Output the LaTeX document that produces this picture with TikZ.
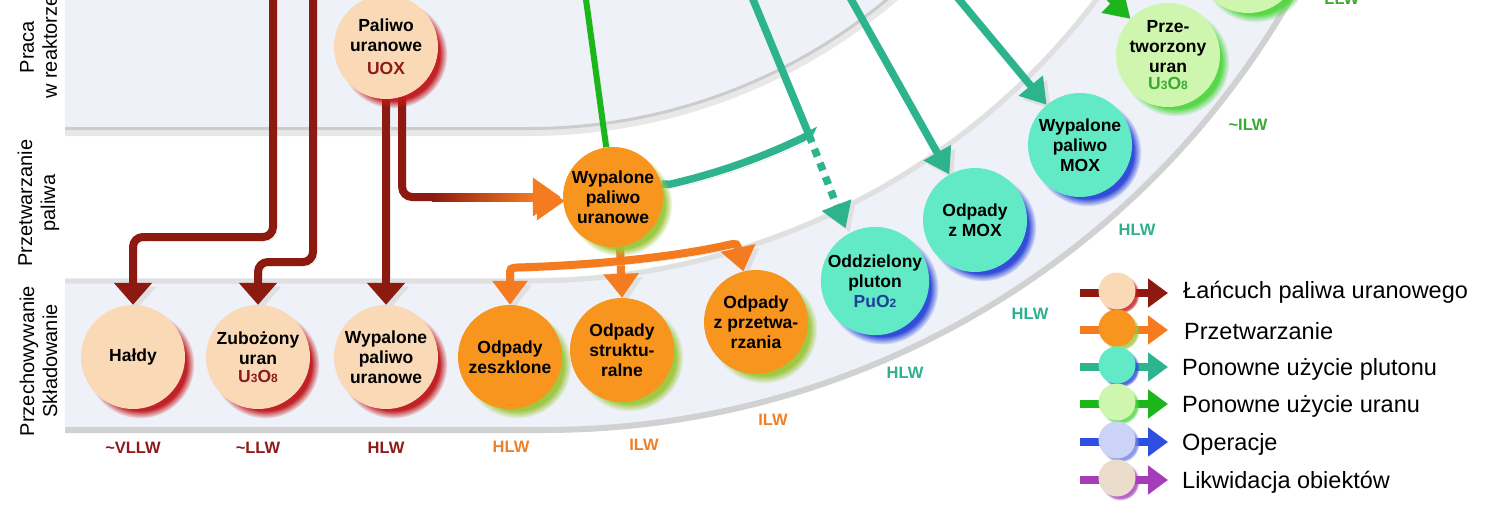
\documentclass[tikz,border=0pt]{standalone}
\usepackage{fontspec}
\setmainfont{Liberation Sans}
\usetikzlibrary{arrows.meta,shadows,fadings,calc}
\pgfdeclarelayer{bands}
\pgfdeclarelayer{arrows}
\pgfsetlayers{bands,arrows,main}

\definecolor{cRed}{HTML}{8C1A10}
\definecolor{cRedTxt}{HTML}{8E1B1B}
\definecolor{cRedGlow}{HTML}{C0171C}
\definecolor{cPeach}{HTML}{FAD9B7}
\definecolor{cOrange}{HTML}{F47B20}
\definecolor{cOrangeNode}{HTML}{F7951E}
\definecolor{cOrangeGlow}{HTML}{9CC63A}
\definecolor{cOrangeTxt}{HTML}{F08028}
\definecolor{cTeal}{HTML}{2DB48F}
\definecolor{cTealNode}{HTML}{62EAC6}
\definecolor{cTealGlow}{HTML}{2A45D8}
\definecolor{cTealTxt}{HTML}{2FB08E}
\definecolor{cGreen}{HTML}{1CB61C}
\definecolor{cGreenNode}{HTML}{CFF6AE}
\definecolor{cGreenGlow}{HTML}{4FD640}
\definecolor{cGreenTxt}{HTML}{3BAA32}
\definecolor{cBlue}{HTML}{2F4FE3}
\definecolor{cLav}{HTML}{CBD4F6}
\definecolor{cLavGlow}{HTML}{6F7FE8}
\definecolor{cPurple}{HTML}{A53DBA}
\definecolor{cBeige}{HTML}{EBDCCB}
\definecolor{cBand}{HTML}{EEF1F8}
\definecolor{cPuTxt}{HTML}{1E3F99}

\newcommand\nodefont{\fontsize{17.5}{20}\selectfont\bfseries}
\newcommand\sidefont{\fontsize{20}{23}\selectfont}
\newcommand\legfont{\fontsize{23.5}{26}\selectfont}
\newcommand\wastefont{\fontsize{16.5}{18}\selectfont\bfseries}
\newcommand\myChemSub[1]{\raisebox{-0.5pt}{\fontsize{12}{12}\selectfont #1}}

\tikzset{
  ball/.style n args={3}{circle, minimum size=#3, inner sep=0pt, align=center,
    font=\nodefont, text=black, fill=#1,
    circular drop shadow={fill=#2, shadow xshift=7pt, shadow yshift=-7pt,
      shadow scale=1.04, opacity=0.95}},
  peachball/.style={ball={cPeach}{cRedGlow}{104pt}},
  orangeball/.style={ball={cOrangeNode}{cOrangeGlow}{104pt}},
  tealball/.style={ball={cTealNode}{cTealGlow}{104pt}},
  greenball/.style={ball={cGreenNode}{cGreenGlow}{104pt}},
  legball/.style n args={2}{circle, minimum size=37pt, inner sep=0pt, fill=#1,
    circular drop shadow={fill=#2, shadow xshift=3pt, shadow yshift=-3pt,
      shadow scale=1.05, opacity=0.8}},
  arrshadow/.style={preaction={draw=black!12, transform canvas={shift={(4pt,-4pt)}}}},
  redline/.style={draw=cRed, line width=8pt, rounded corners=10pt, arrshadow},
  redarrow/.style={redline, -{Triangle[width=37pt,length=22pt]}},
  orangeline/.style={draw=cOrange, line width=8pt, arrshadow},
  orangearrow/.style={orangeline, -{Triangle[width=34pt,length=24pt]}},
  tealline/.style={draw=cTeal, line width=7.5pt, arrshadow},
  tealarrow/.style={tealline, -{Triangle[width=30pt,length=25pt]}},
  greenline/.style={draw=cGreen, line width=6pt, arrshadow},
  greenarrow/.style={greenline, -{Triangle[width=30pt,length=25pt]}},
  wl/.style={font=\wastefont, inner sep=0pt},
  side/.style={rotate=90, align=center, font=\sidefont, inner sep=0pt},
  legtext/.style={anchor=west, font=\legfont, inner sep=0pt},
  legline/.style={line width=8pt, -{Triangle[width=28pt,length=20pt]}},
}

\begin{document}
\begin{tikzpicture}[x=1pt,y=-1pt]
\useasboundingbox (0,0) rectangle (1505,512);

\begin{pgfonlayer}{bands}
\clip (0,0) rectangle (1505,512);
\fill[white] (0,0) rectangle (1505,512);
% top band (Praca w reaktorze)
\fill[cBand] (65,-30) -- (65,128) -- plot[domain=90:30,samples=70] ({530+558*cos(\x)},{-430+558*sin(\x)}) -- cycle;
\draw[black!9, line width=8pt] (65,132) -- plot[domain=90:30,samples=70] ({530+562*cos(\x)},{-430+562*sin(\x)});
\draw[black!20, line width=3pt] (65,128.5) -- plot[domain=90:30,samples=70] ({530+558.5*cos(\x)},{-430+558.5*sin(\x)});
% bottom band (Przechowywanie)
\fill[cBand] (65,278) -- plot[domain=90:20,samples=90] ({530+708*cos(\x)},{-430+708*sin(\x)})
  -- plot[domain=20:90,samples=90] ({545+862*cos(\x)},{-430+862*sin(\x)}) -- (65,432) -- cycle;
\draw[black!12, line width=5pt] (65,281) -- plot[domain=90:20,samples=90] ({530+711*cos(\x)},{-430+711*sin(\x)});
\draw[black!18, line width=6pt] (65,430) -- plot[domain=90:20,samples=90] ({545+860*cos(\x)},{-430+860*sin(\x)});
\end{pgfonlayer}

% ---------- nodes ----------
\node[peachball] (paliwo) at (386,47) {Paliwo\\uranowe\\[3pt]\textcolor{cRedTxt}{UOX}};
\node[peachball] (haldy) at (133,357) {Hałdy};
\node[peachball] (zub) at (258,357) {Zubożony\\uran\\[-2pt]\textcolor{cRedTxt}{U\myChemSub{3}O\myChemSub{8}}};
\node[peachball] (wyp1) at (386,357) {Wypalone\\paliwo\\uranowe};
\node[ball={cOrangeNode}{cOrangeGlow}{100pt}] (wyp2) at (613,197) {Wypalone\\paliwo\\uranowe};
\node[orangeball] (zeszk) at (510,357) {Odpady\\zeszklone};
\node[orangeball] (strukt) at (622,350) {Odpady\\struktu-\\ralne};
\node[orangeball] (przetw) at (756,322) {Odpady\\z przetwa-\\rzania};
\node[tealball] (oddz) at (875,281) {Oddzielony\\pluton\\\textcolor{cPuTxt}{PuO\myChemSub{2}}};
\node[tealball] (mox1) at (975,220) {Odpady\\z MOX};
\node[tealball] (mox2) at (1080,145) {Wypalone\\paliwo\\MOX};
\node[greenball] (przet) at (1168,55) {Prze-\\tworzony\\uran\\[-3pt]\textcolor{cGreenTxt}{U\myChemSub{3}O\myChemSub{8}}};
\node[greenball] (topball) at (1248,-39) {};

% side labels
\node[side] (s1) at (38.5,47) {Praca\\w reaktorze};
\node[side] (s2) at (38.5,203) {Przetwarzanie\\paliwa};
\node[side] (s3) at (38.5,361) {Przechowywanie\\Składowanie};

% waste classes
\node[wl, text=cRedTxt] (w1) at (133,448) {\textasciitilde VLLW};
\node[wl, text=cRedTxt] (w2) at (258,448) {\textasciitilde LLW};
\node[wl, text=cRedTxt] (w3) at (386,448) {HLW};
\node[wl, text=cOrangeTxt] (w4) at (511,447) {HLW};
\node[wl, text=cOrangeTxt] (w5) at (644,445) {ILW};
\node[wl, text=cOrangeTxt] (w6) at (773,420) {ILW};
\node[wl, text=cTealTxt] (w7) at (905,373) {HLW};
\node[wl, text=cTealTxt] (w8) at (1030,314) {HLW};
\node[wl, text=cTealTxt] (w9) at (1137,230) {HLW};
\node[wl, text=cGreenTxt] (w10) at (1248,125) {\textasciitilde ILW};
\node[wl, text=cGreenTxt] (w11) at (1337,-1) {\textasciitilde LLW};

% legend nodes
\node[legball={cPeach}{cRedGlow}] (lc1) at (1117,291) {};
\node[legball={cOrangeNode}{cOrangeGlow}] (lc2) at (1117,328) {};
\node[legball={cTealNode}{cTealGlow}] (lc3) at (1117,365) {};
\node[legball={cGreenNode}{cGreenGlow}] (lc4) at (1117,402) {};
\node[legball={cLav}{cLavGlow}] (lc5) at (1117,440) {};
\node[legball={cBeige}{cPurple}] (lc6) at (1117,478) {};
\node[legtext] (lt1) at (1183,292) {Łańcuch paliwa uranowego};
\node[legtext] (lt2) at (1184,331) {Przetwarzanie};
\node[legtext] (lt3) at (1182,369) {Ponowne użycie plutonu};
\node[legtext] (lt4) at (1182,406) {Ponowne użycie uranu};
\node[legtext] (lt5) at (1182,444) {Operacje};
\node[legtext] (lt6) at (1182,482) {Likwidacja obiektów};

% ---------- connectors ----------
\begin{pgfonlayer}{arrows}
\coordinate (r1top) at (273,-15);
\coordinate (r2top) at (313,-15);
\draw[redarrow] (r1top) -- (273,237) -- (133,237) -- (haldy.north);
\draw[redarrow] (r2top) -- (313,262) -- (258,262) -- (zub.north);
\draw[redarrow] (paliwo) -- (wyp1);
\draw[redline, -{Triangle[width=37pt,length=28pt,color=cOrange]}, shorten >=2pt] (paliwo.-72) |- (wyp2.west);
\shade[left color=cRed, right color=cOrange] (432,193) rectangle (534,201);

% orange
\draw[orangearrow] (wyp2.-82) -- (strukt.north);
\draw[orangeline, {Triangle[width=34pt,length=24pt]}-{Triangle[width=34pt,length=24pt]}]
  (zeszk.north) -- (510,276) .. controls (510,268) .. (518,267.5)
  .. controls (600,265) and (680,256) .. (728,245)
  .. controls (737,243) .. (739,252) -- (przetw.104);

% green
\coordinate (gtop) at (584,-15);
\draw[greenline] (wyp2) -- (gtop);
\coordinate (gtop2) at (1085,-25);
\draw[greenarrow] (gtop2) -- (przet);

% teal
\coordinate (t1) at (747,-15);
\coordinate (junc) at (809,135);
\draw[tealline] (t1) -- (junc);
\draw[tealline] (wyp2.15) -- plot[domain=77.2:63.7,samples=30] ({530+630*cos(\x)},{-430+630*sin(\x)}) -- (junc);
\draw[tealarrow, dash pattern=on 8pt off 7pt, shorten >=6pt] (junc) -- (oddz.120);
\coordinate (t2) at (843,-15);
\draw[tealarrow] (t2) -- (mox1);
\coordinate (t3) at (947,-15);
\draw[tealarrow] (t3) -- (mox2);

% legend lines
\coordinate (la1) at (1080,293); \coordinate (lb1) at (1168,293);
\coordinate (la2) at (1080,330); \coordinate (lb2) at (1168,330);
\coordinate (la3) at (1080,367); \coordinate (lb3) at (1168,367);
\coordinate (la4) at (1080,404); \coordinate (lb4) at (1168,404);
\coordinate (la5) at (1080,442); \coordinate (lb5) at (1168,442);
\coordinate (la6) at (1080,480); \coordinate (lb6) at (1168,480);
\draw[legline, cRed] (la1) -- (lb1);
\draw[legline, cOrange] (la2) -- (lb2);
\draw[legline, cTeal] (la3) -- (lb3);
\draw[legline, cGreen] (la4) -- (lb4);
\draw[legline, cBlue] (la5) -- (lb5);
\draw[legline, cPurple] (la6) -- (lb6);
\end{pgfonlayer}
\end{tikzpicture}
\end{document}
